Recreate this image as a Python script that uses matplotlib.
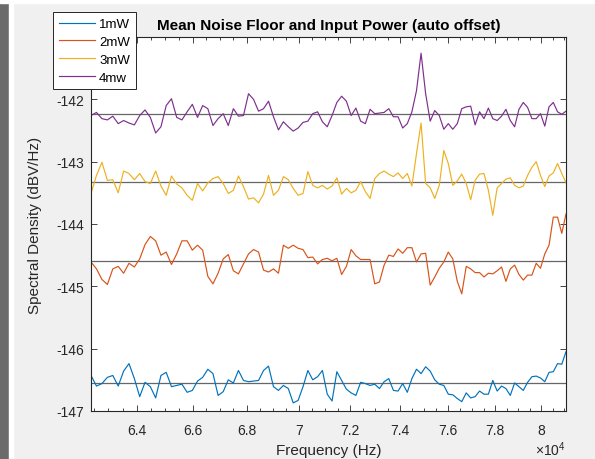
import numpy as np
import matplotlib
matplotlib.use("Agg")
import matplotlib.pyplot as plt
from matplotlib.patches import Rectangle
from matplotlib.ticker import FixedLocator, FixedFormatter, NullFormatter

plt.rcParams['font.family'] = ['Liberation Sans', 'DejaVu Sans']
plt.rcParams['mathtext.fontset'] = 'custom'
plt.rcParams['mathtext.rm'] = 'Liberation Sans'
plt.rcParams['axes.unicode_minus'] = False

# frequency grid (Hz), 100 bins
f_start, f_stop, n_bins = 62400, 81100, 100
freq = np.linspace(f_start, f_stop, n_bins)

labels = ['1mW', '2mW', '3mW', '4mw']
colors = ['#0072BD', '#D95319', '#EDB120', '#7E2F8E']
mean_levels = [-146.55, -144.60, -143.33, -142.24]

p1 = [-146.43, -146.60, -146.56, -146.46, -146.43, -146.60, -146.36, -146.24, -146.48, -146.77,
      -146.54, -146.61, -146.79, -146.43, -146.38, -146.61, -146.59, -146.57, -146.70, -146.67,
      -146.52, -146.46, -146.33, -146.40, -146.75, -146.69, -146.50, -146.55, -146.35, -146.51,
      -146.53, -146.52, -146.51, -146.35, -146.28, -146.61, -146.67, -146.59, -146.64, -146.87,
      -146.83, -146.61, -146.35, -146.50, -146.45, -146.35, -146.73, -146.84, -146.37, -146.51,
      -146.65, -146.71, -146.75, -146.54, -146.56, -146.59, -146.57, -146.64, -146.53, -146.48,
      -146.67, -146.68, -146.56, -146.70, -146.48, -146.33, -146.40, -146.29, -146.36, -146.50,
      -146.57, -146.59, -146.73, -146.74, -146.80, -146.85, -146.71, -146.79, -146.77, -146.68,
      -146.73, -146.73, -146.51, -146.68, -146.60, -146.64, -146.75, -146.55, -146.61, -146.67,
      -146.54, -146.45, -146.44, -146.47, -146.53, -146.38, -146.37, -146.24, -146.25, -146.05]

p2 = [-144.61, -144.72, -144.89, -144.97, -144.72, -144.68, -144.79, -144.63, -144.69, -144.56,
      -144.33, -144.20, -144.27, -144.50, -144.45, -144.65, -144.48, -144.27, -144.27, -144.42,
      -144.34, -144.42, -144.84, -144.96, -144.79, -144.56, -144.49, -144.75, -144.80, -144.64,
      -144.48, -144.41, -144.45, -144.74, -144.77, -144.72, -144.79, -144.34, -144.39, -144.34,
      -144.39, -144.41, -144.54, -144.53, -144.64, -144.57, -144.55, -144.59, -144.55, -144.81,
      -144.68, -144.41, -144.51, -144.57, -144.57, -144.57, -144.96, -144.93, -144.66, -144.50,
      -144.52, -144.40, -144.47, -144.38, -144.38, -144.61, -144.48, -144.47, -144.98, -144.85,
      -144.71, -144.61, -144.45, -144.56, -144.92, -145.12, -144.68, -144.72, -144.78, -144.78,
      -144.85, -144.79, -144.80, -144.75, -144.69, -144.92, -144.72, -144.66, -144.81, -144.90,
      -144.82, -144.82, -144.63, -144.71, -144.48, -144.34, -143.89, -143.89, -144.15, -143.84]

p3 = [-143.51, -143.22, -143.01, -143.30, -143.29, -143.50, -143.15, -143.19, -143.29, -143.19,
      -143.32, -143.35, -143.15, -143.39, -143.54, -143.23, -143.36, -143.42, -143.54, -143.62,
      -143.35, -143.47, -143.34, -143.27, -143.24, -143.35, -143.51, -143.46, -143.23, -143.40,
      -143.60, -143.58, -143.66, -143.52, -143.22, -143.54, -143.46, -143.24, -143.29, -143.43,
      -143.54, -143.51, -143.16, -143.38, -143.42, -143.38, -143.44, -143.39, -143.26, -143.52,
      -143.43, -143.50, -143.46, -143.32, -143.48, -143.59, -143.27, -143.19, -143.15, -143.20,
      -143.24, -143.18, -143.27, -143.19, -143.39, -142.87, -142.38, -143.35, -143.42, -143.59,
      -143.38, -142.82, -143.03, -143.38, -143.31, -143.20, -143.35, -143.61, -143.30, -143.20,
      -143.19, -143.46, -143.86, -143.42, -143.35, -143.28, -143.26, -143.38, -143.42, -143.39,
      -143.22, -143.09, -143.00, -143.22, -143.40, -143.23, -143.18, -143.03, -143.19, -143.34]

p4 = [-142.26, -142.21, -142.31, -142.33, -142.27, -142.39, -142.34, -142.38, -142.41, -142.26,
      -142.17, -142.29, -142.54, -142.44, -142.10, -141.99, -142.29, -142.33, -142.20, -142.08,
      -142.29, -142.10, -142.15, -142.42, -142.31, -142.23, -142.42, -142.15, -142.27, -142.26,
      -141.91, -142.00, -142.19, -142.15, -142.03, -142.28, -142.49, -142.36, -142.44, -142.51,
      -142.46, -142.37, -142.35, -142.23, -142.20, -142.36, -142.44, -142.26, -142.05, -141.95,
      -142.03, -142.26, -142.14, -142.35, -142.39, -142.16, -142.23, -142.22, -142.21, -142.15,
      -142.28, -142.28, -142.46, -142.39, -142.20, -141.86, -141.26, -141.91, -142.35, -142.18,
      -142.26, -142.48, -142.39, -142.48, -142.39, -142.15, -142.12, -142.11, -142.41, -142.20,
      -142.31, -142.14, -142.31, -142.34, -142.27, -142.16, -142.34, -142.44, -142.16, -142.05,
      -142.13, -142.31, -142.31, -142.23, -142.43, -142.12, -142.05, -142.20, -142.24, -142.19]

series = [p1, p2, p3, p4]

xticks = [64000, 66000, 68000, 70000, 72000, 74000, 76000, 78000, 80000]
xticklabels = ['6.4', '6.6', '6.8', '7', '7.2', '7.4', '7.6', '7.8', '8']
yticks = [-147, -146, -145, -144, -143, -142, -141]
yticklabels = ['-147', '-146', '-145', '-144', '-143', '-142', '-141']

axcol = '#262626'

fig = plt.figure(figsize=(5.95, 4.6), dpi=100, facecolor='#f0f0f0')
# window frame bits
fig.patches.append(Rectangle((0, 0), 9 / 595, 1, transform=fig.transFigure,
                             color='#6b6b6b', zorder=0))
fig.patches.append(Rectangle((9 / 595, 0), 4 / 595, 1, transform=fig.transFigure,
                             color='white', zorder=0))
fig.patches.append(Rectangle((0, 1 - 4 / 460), 1, 4 / 460, transform=fig.transFigure,
                             color='white', zorder=0))

ax = fig.add_axes([91 / 595, 48 / 460, 475 / 595, 374 / 460])
ax.set_facecolor('white')

lines = []
for vals, c, lab in zip(series, colors, labels):
    ln, = ax.plot(freq, vals, color=c, lw=0.85, label=lab)
    lines.append(ln)
for m in mean_levels:
    ax.axhline(m, color='#666666', lw=0.9, zorder=1)

ax.set_xscale('log')
ax.set_xlim(f_start, f_stop)
ax.set_ylim(-147, -141)
ax.xaxis.set_major_locator(FixedLocator(xticks))
ax.xaxis.set_major_formatter(FixedFormatter(xticklabels))
ax.xaxis.set_minor_locator(FixedLocator(np.arange(62500, 81001, 500)))
ax.xaxis.set_minor_formatter(NullFormatter())
ax.set_yticks(yticks)
ax.set_yticklabels(yticklabels)

ax.tick_params(which='both', direction='in', top=True, right=True,
               colors=axcol, labelsize=10, width=0.6)
ax.tick_params(which='major', length=4.5)
ax.tick_params(which='minor', length=2.2)
ax.tick_params(axis='x', which='major', pad=9)
ax.tick_params(axis='y', which='major', pad=5)
for s in ax.spines.values():
    s.set_color(axcol)
    s.set_linewidth(0.8)

ax.set_xlabel('Frequency (Hz)', fontsize=11, color=axcol, labelpad=4)
ax.set_ylabel('Spectral Density (dBV/Hz)', fontsize=11, color=axcol, labelpad=10)
ax.set_title('Mean Noise Floor and Input Power (auto offset)', fontsize=11,
             fontweight='bold', color='black', pad=6)
fig.text(566 / 595, 1 - 450 / 460, r'$\times10^{4}$', ha='right', va='center',
         fontsize=10, color=axcol)

leg = fig.legend(handles=lines, loc='upper left', bbox_to_anchor=(53 / 595, 1 - 13 / 460),
                 bbox_transform=fig.transFigure, fontsize=9.5, frameon=True,
                 fancybox=False, edgecolor=axcol, framealpha=1, borderpad=0.45,
                 labelspacing=0.42, handlelength=2.7, handletextpad=0.35,
                 borderaxespad=0, markerfirst=True)
leg.get_frame().set_linewidth(0.7)
for t in leg.get_texts():
    t.set_ha('right')

fig.savefig('out.png', dpi=100, facecolor=fig.get_facecolor())
